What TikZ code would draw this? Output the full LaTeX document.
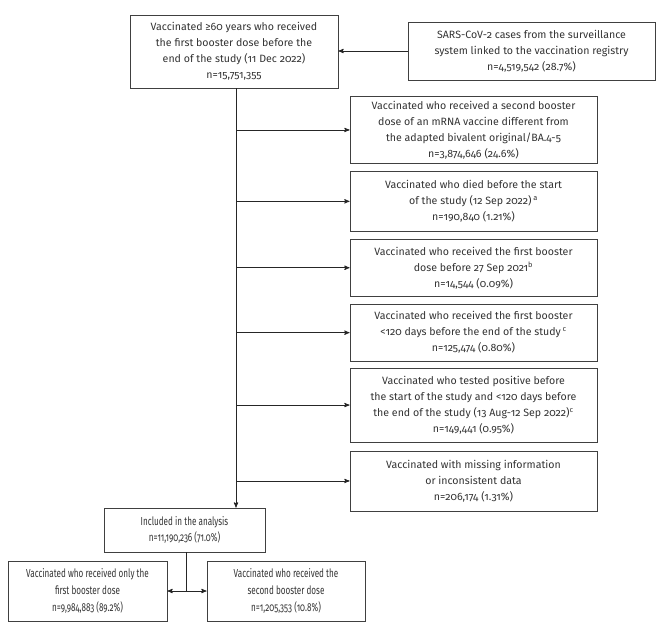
\documentclass[tikz,border=0pt]{standalone}
\usepackage{fontspec}
\setmainfont{Fira Sans}[Numbers=OldStyle]
\newfontfamily\condfont{Fira Sans}[Numbers=OldStyle, FakeStretch=0.7]
\usetikzlibrary{arrows,positioning}
\tikzset{
    >=stealth',
    boks/.style={
           rectangle,
           draw=black!75, line width=0.9pt,
           text=black!80,
           font=\fontsize{10.6}{16}\selectfont,
           align=center,
           inner sep=3pt,
           text centered},
    smal/.style={
           boks,
           font=\condfont\fontsize{11.6}{16.7}\selectfont},
    pil/.style={
           ->,
           draw=black!85,
           line width=0.9pt}
}

\begin{document}
\begin{tikzpicture}[x=1pt, y=-1pt, node distance=7pt]
        \useasboundingbox (0,0) rectangle (667,641);
        \node[boks, minimum width=208pt, minimum height=73pt] (start) at (234,51.5)
            {Vaccinated ≥60 years who received\\the first booster dose before the\\end of the study (11 Dec 2022)\\n=15,751,355};
        \node[boks, minimum width=247pt, minimum height=58pt] (sars) at (531.5,51)
            {SARS-CoV-2 cases from the surveillance\\system linked to the vaccination registry\\n=4,519,542 (28.7\%)};
        \node[boks, minimum width=247pt, minimum height=67pt, anchor=north] (ex1) at (473.5,96)
            {Vaccinated who received a second booster\\dose of an mRNA vaccine different from\\the adapted bivalent original/BA.4-5\\n=3,874,646 (24.6\%)};
        \node[boks, minimum width=247pt, minimum height=60pt, below=of ex1] (ex2)
            {Vaccinated who died before the start\\of the study (12 Sep 2022)\,\textsuperscript{a}\\n=190,840 (1.21\%)};
        \node[boks, minimum width=247pt, minimum height=57pt, below=of ex2] (ex3)
            {Vaccinated who received the first booster\\dose before 27 Sep 2021\textsuperscript{b}\\n=14,544 (0.09\%)};
        \node[boks, minimum width=247pt, minimum height=57pt, below=of ex3] (ex4)
            {Vaccinated who received the first booster\\<120 days before the end of the study\,\textsuperscript{c}\\n=125,474 (0.80\%)};
        \node[boks, minimum width=247pt, minimum height=74pt, below=6pt of ex4] (ex5)
            {Vaccinated who tested positive before\\the start of the study and <120 days before\\the end of the study (13 Aug-12 Sep 2022)\textsuperscript{c}\\n=149,441 (0.95\%)};
        \node[boks, minimum width=247pt, minimum height=60pt, below=8pt of ex5] (ex6)
            {Vaccinated with missing information\\or inconsistent data\\n=206,174 (1.31\%)};
        \node[smal, minimum width=161pt, minimum height=44pt] (incl) at (184.5,530)
            {Included in the analysis\\n=11,190,236 (71.0\%)};
        \node[smal, minimum width=159pt, minimum height=60pt] (first) at (87.5,591)
            {Vaccinated who received only the\\first booster dose\\n=9,984,883 (89.2\%)};
        \node[smal, minimum width=158pt, minimum height=60pt] (second) at (286,591)
            {Vaccinated who received the\\second booster dose\\n=1,205,353 (10.8\%)};
        \coordinate (split) at (incl.south |- first.east);

        \draw[pil] (sars.west) -- (sars.west -| start.east);
        \draw[pil] ([xshift=2pt]start.south) -- ([xshift=2pt]start.south |- incl.north);
        \foreach \ex in {ex1,ex2,ex3,ex4,ex5,ex6}
            \draw[pil] ([xshift=2pt]start.south |- \ex.west) -- (\ex.west);
        \draw[draw=black!85, line width=0.9pt] ([xshift=1.5pt]incl.south) -- ([xshift=1.5pt]split);
        \draw[pil] ([xshift=1.5pt]split) -- (first.east);
        \draw[pil] ([xshift=1.5pt]split) -- (second.west);
    \end{tikzpicture}
\end{document}
